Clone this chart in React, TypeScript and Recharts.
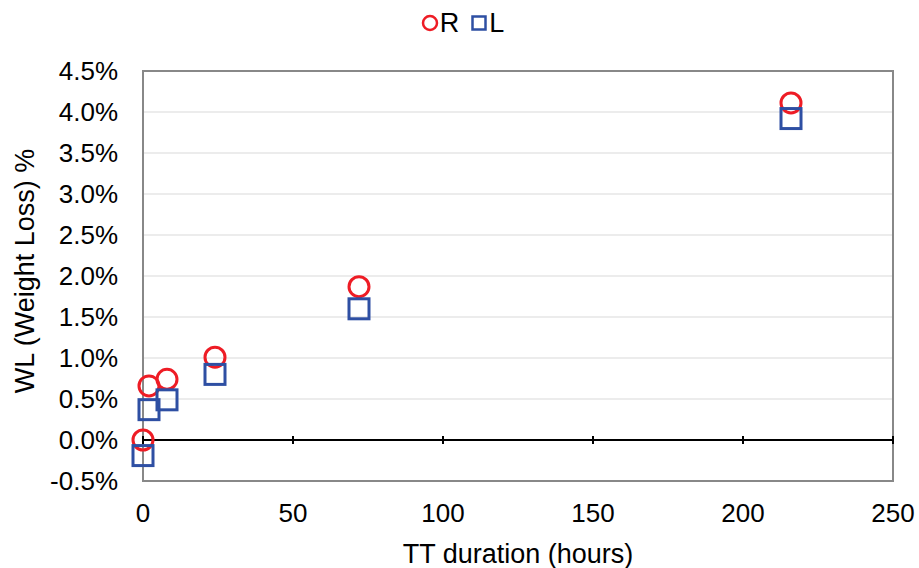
import React from 'react';
import {
    ScatterChart, Scatter, XAxis, YAxis, CartesianGrid, ReferenceLine, ReferenceArea,
} from 'recharts';

// TT duration in hours
const hours = [0, 2, 8, 24, 72, 216];
// weight loss (%) per side
const rightWL = [0.0, 0.66, 0.74, 1.01, 1.87, 4.11];
const leftWL = [-0.19, 0.37, 0.49, 0.8, 1.6, 3.92];

const xTicks = [0, 50, 100, 150, 200, 250];
const yTicks = [-0.5, 0, 0.5, 1, 1.5, 2, 2.5, 3, 3.5, 4, 4.5];

const RED = '#ee1c25';
const BLUE = '#2e4fa3';
const FONT = 'Arial, "Liberation Sans", sans-serif';

const rData = hours.map((h, i) => ({ x: h, y: rightWL[i] }));
const lData = hours.map((h, i) => ({ x: h, y: leftWL[i] }));

const CircleMark = (props: any) => (
    <circle cx={props.cx} cy={props.cy} r={10} fill="none" stroke={RED} strokeWidth={3} />
);

const SquareMark = (props: any) => (
    <rect x={props.cx - 10} y={props.cy - 10} width={20} height={20} fill="none" stroke={BLUE} strokeWidth={3} />
);

// legend drawn on top of the chart so it does not push the plot down
const ChartLegend = () => (
    <div style={{
        position: 'absolute', top: 8, left: 0, width: 919, display: 'flex', justifyContent: 'center',
        alignItems: 'center', fontFamily: FONT, fontSize: 27, color: '#000', lineHeight: '30px', paddingLeft: 6,
        boxSizing: 'border-box',
    }}>
        <svg width={18} height={18} style={{ marginRight: 1 }}>
            <circle cx={9} cy={9} r={7} fill="none" stroke={RED} strokeWidth={2.5} />
        </svg>
        <span style={{ marginRight: 12 }}>R</span>
        <svg width={16} height={16} style={{ marginRight: 2 }}>
            <rect x={1.5} y={1.5} width={13} height={13} fill="none" stroke={BLUE} strokeWidth={2.5} />
        </svg>
        <span>L</span>
    </div>
);

const YTitle = (props: any) => {
    const vb = props.viewBox;
    const cx = 25;
    const cy = vb.y + vb.height / 2 - 5;
    return (
        <text
            x={cx}
            y={cy}
            transform={`rotate(-90, ${cx}, ${cy})`}
            textAnchor="middle"
            dominantBaseline="central"
            fontFamily={FONT}
            fontSize={27}
            fill="#000"
        >
            WL (Weight Loss) %
        </text>
    );
};

const App: React.FC = () => {
    return (
        <div style={{ position: 'absolute', left: 0, top: 0, width: 919, height: 568, background: '#fff' }}>
            <ScatterChart width={919} height={568} margin={{ top: 71, right: 26, bottom: 0, left: 0 }}>
                <CartesianGrid vertical={false} stroke="#d9d9d9" />
                <ReferenceArea x1={0} x2={250} y1={-0.5} y2={4.5} fill="none" stroke="#888888" strokeWidth={2} ifOverflow="visible" />
                <XAxis
                    type="number"
                    dataKey="x"
                    domain={[0, 250]}
                    ticks={xTicks}
                    axisLine={false}
                    tickLine={false}
                    tickSize={0}
                    tickMargin={23}
                    height={87}
                    tick={{ fill: '#000', fontSize: 26, fontFamily: FONT }}
                    label={{ value: 'TT duration (hours)', position: 'insideBottom', offset: 5, fill: '#000', fontSize: 27, fontFamily: FONT }}
                />
                <YAxis
                    type="number"
                    dataKey="y"
                    domain={[-0.5, 4.5]}
                    ticks={yTicks}
                    axisLine={false}
                    tickLine={false}
                    tickSize={0}
                    tickMargin={25}
                    width={143}
                    tickFormatter={(v: number) => `${v.toFixed(1)}%`}
                    tick={{ fill: '#000', fontSize: 26, fontFamily: FONT }}
                    label={{ content: YTitle }}
                />
                <ReferenceLine y={0} stroke="#000" strokeWidth={2} />
                {xTicks.map(t => (
                    <ReferenceLine
                        key={t}
                        segment={[{ x: t, y: -0.05 }, { x: t, y: 0.05 }]}
                        stroke="#000"
                        strokeWidth={2}
                    />
                ))}
                <Scatter name="R" data={rData} shape={CircleMark} isAnimationActive={false} />
                <Scatter name="L" data={lData} shape={SquareMark} isAnimationActive={false} />
            </ScatterChart>
            <ChartLegend />
        </div>
    );
};

export default App;
